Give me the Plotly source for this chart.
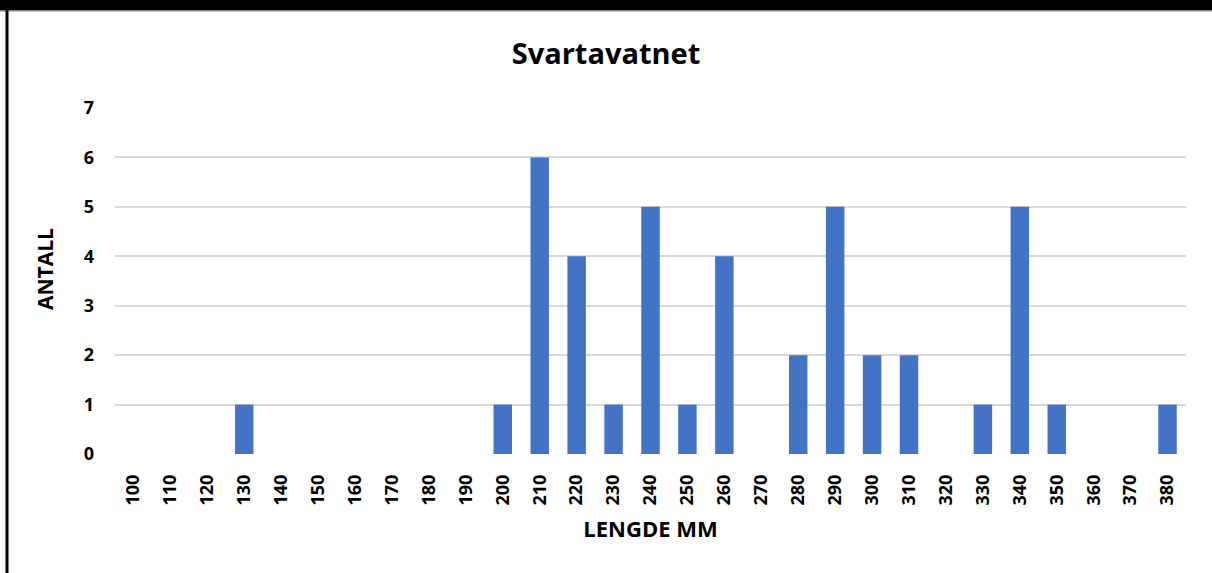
import plotly.graph_objects as go

categories = [str(v) for v in range(100, 390, 10)]
counts = [0, 0, 0, 1, 0, 0, 0, 0, 0, 0, 1, 6, 4, 1, 5, 1, 4, 0, 2, 5, 2, 2, 0, 1, 5, 1, 0, 0, 1]
y_ticks = [0, 1, 2, 3, 4, 5, 6, 7]

W, H = 1212, 573
ml, mr, mt, mb = 115, 26, 108, 119
pw, ph = W - ml - mr, H - mt - mb

def px_x(x):
    return (x - ml) / pw

def px_y(y):
    return (H - mb - y) / ph

font_family = "Open Sans, Noto Sans, sans-serif"

fig = go.Figure(go.Bar(
    x=categories, y=counts, marker_color="#4472C4", width=0.5,
    marker_line_width=0,
))

fig.update_layout(
    width=W, height=H,
    margin=dict(l=ml, r=mr, t=mt, b=mb),
    plot_bgcolor="white", paper_bgcolor="white",
    showlegend=False,
    title=dict(text="<b>Svartavatnet</b>", x=0.5, xanchor="center",
               y=1 - 54 / H, yanchor="middle",
               font=dict(family=font_family, size=29, color="black")),
    xaxis=dict(
        type="category", tickangle=-90, showgrid=False, zeroline=False,
        tickfont=dict(family=font_family, size=18, color="black", weight="bold"),
        ticks="", showline=False, ticklabelstandoff=16,
        title=dict(text="<b>LENGDE MM</b>", standoff=17,
                   font=dict(family=font_family, size=22, color="black")),
    ),
    yaxis=dict(
        range=[0, 7], tickvals=y_ticks, showgrid=True, gridcolor="#d9d9d9", gridwidth=2,
        zeroline=False, showline=False, ticks="", ticklabelstandoff=20,
        tickfont=dict(family=font_family, size=18, color="black", weight="bold"),
    ),
    annotations=[
        dict(text="<b>ANTALL</b>", xref="paper", yref="paper",
             x=px_x(45), y=px_y(269), xanchor="center", yanchor="middle",
             textangle=-90, showarrow=False,
             font=dict(family=font_family, size=21, color="black")),
    ],
    shapes=[
        dict(type="rect", xref="paper", yref="paper",
             x0=px_x(-5), x1=px_x(W + 5), y0=px_y(-5), y1=px_y(10.5),
             fillcolor="black", line_width=0, layer="above"),
        dict(type="line", xref="paper", yref="paper",
             x0=px_x(0), x1=px_x(W), y0=px_y(11), y1=px_y(11),
             line=dict(color="#888888", width=1)),
        dict(type="rect", xref="paper", yref="paper",
             x0=px_x(5.5), x1=px_x(8.5), y0=px_y(H + 5), y1=px_y(10),
             fillcolor="black", line_width=0),
    ],
)

fig.write_html("out.html", config={"displayModeBar": False},
               post_script="document.body.style.margin='0';")
